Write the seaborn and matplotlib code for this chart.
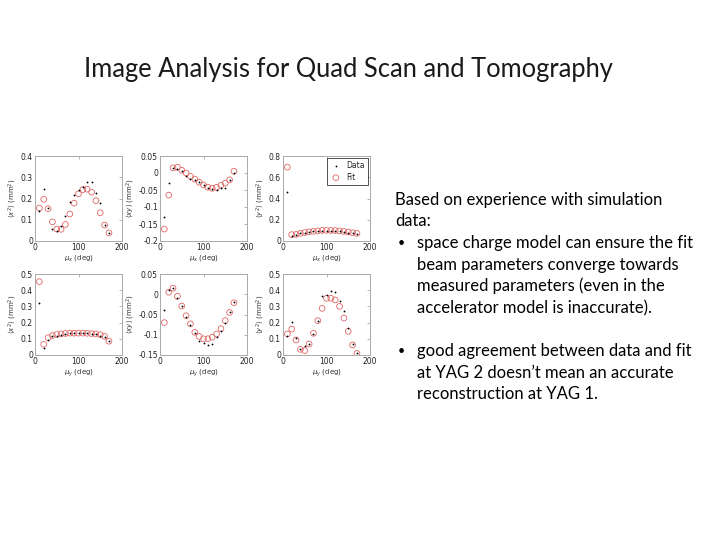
import matplotlib
matplotlib.use("Agg")
import matplotlib.pyplot as plt
import seaborn as sns
import numpy as np
import pandas as pd

sns.set_style("white")
plt.rcParams['font.family'] = ['DejaVu Sans']

mu = [10, 20, 30, 40, 50, 60, 70, 80, 90, 100, 110, 120, 130, 140, 150, 160, 170]

# Row 1 (vs mu_x)
x2_data_a = [0.14, 0.245, 0.155, 0.055, 0.047, 0.072, 0.118, 0.185, 0.215, 0.24, 0.252, 0.278, 0.278, 0.228, 0.18, 0.075, 0.04]
x2_fit_a = [0.155, 0.196, 0.152, 0.09, 0.056, 0.055, 0.078, 0.127, 0.178, 0.222, 0.242, 0.244, 0.23, 0.19, 0.133, 0.075, 0.038]
xy_data_a = [-0.13, -0.03, 0.015, 0.013, 0.005, -0.01, -0.018, -0.02, -0.025, -0.035, -0.045, -0.047, -0.05, -0.045, -0.045, -0.02, 0.0]
xy_fit_a = [-0.165, -0.065, 0.015, 0.017, 0.008, 0.0, -0.01, -0.018, -0.027, -0.035, -0.042, -0.045, -0.042, -0.036, -0.03, -0.02, 0.005]
y2_data_a = [0.46, 0.05, 0.055, 0.075, 0.08, 0.085, 0.09, 0.095, 0.097, 0.098, 0.097, 0.095, 0.092, 0.088, 0.08, 0.072, 0.065]
y2_fit_a = [0.695, 0.06, 0.062, 0.072, 0.08, 0.086, 0.091, 0.095, 0.1, 0.1, 0.1, 0.098, 0.095, 0.09, 0.085, 0.078, 0.072]

# Row 2 (vs mu_y)
x2_data_b = [0.32, 0.045, 0.095, 0.115, 0.12, 0.125, 0.13, 0.133, 0.135, 0.135, 0.135, 0.133, 0.13, 0.128, 0.12, 0.11, 0.085]
x2_fit_b = [0.453, 0.066, 0.107, 0.12, 0.127, 0.13, 0.133, 0.135, 0.135, 0.135, 0.135, 0.134, 0.132, 0.13, 0.125, 0.115, 0.085]
xy_data_b = [-0.04, 0.01, 0.015, -0.01, -0.03, -0.055, -0.075, -0.095, -0.115, -0.12, -0.125, -0.122, -0.105, -0.09, -0.07, -0.045, -0.02]
xy_fit_b = [-0.07, 0.005, 0.015, -0.005, -0.029, -0.053, -0.073, -0.094, -0.104, -0.11, -0.11, -0.106, -0.098, -0.085, -0.065, -0.045, -0.021]
y2_data_b = [0.115, 0.205, 0.105, 0.04, 0.055, 0.07, 0.13, 0.21, 0.365, 0.37, 0.395, 0.39, 0.335, 0.27, 0.165, 0.07, 0.015]
y2_fit_b = [0.13, 0.16, 0.093, 0.035, 0.027, 0.068, 0.134, 0.212, 0.288, 0.35, 0.35, 0.34, 0.3, 0.228, 0.146, 0.062, 0.01]

ylabels = [r'$\langle x^2\rangle$ (mm$^2$)', r'$\langle xy\rangle$ (mm$^2$)', r'$\langle y^2\rangle$ (mm$^2$)']
xlabels = [r'$\mu_x$ (deg)', r'$\mu_y$ (deg)']
ylims = [[(0, 0.4), (-0.2, 0.05), (0, 0.8)], [(0, 0.5), (-0.15, 0.05), (0, 0.5)]]
yticks = [[[0, 0.1, 0.2, 0.3, 0.4], [-0.2, -0.15, -0.1, -0.05, 0, 0.05], [0, 0.2, 0.4, 0.6, 0.8]],
          [[0, 0.1, 0.2, 0.3, 0.4, 0.5], [-0.15, -0.1, -0.05, 0, 0.05], [0, 0.1, 0.2, 0.3, 0.4, 0.5]]]
xticks = [0, 100, 200]

series = [[(x2_data_a, x2_fit_a), (xy_data_a, xy_fit_a), (y2_data_a, y2_fit_a)],
          [(x2_data_b, x2_fit_b), (xy_data_b, xy_fit_b), (y2_data_b, y2_fit_b)]]

fig = plt.figure(figsize=(7.2, 5.4), dpi=100)

lefts = [35, 160, 283]
tops = [156, 274]
heights = [85, 81]
W = 87
fit_color = '#e06666'

for r in range(2):
    for c in range(3):
        l = lefts[c] / 720
        b = 1 - (tops[r] + heights[r]) / 540
        ax = fig.add_axes([l, b, W / 720, heights[r] / 540])
        d, f = series[r][c]
        df = pd.DataFrame({'mu': mu, 'data': d, 'fit': f})
        sns.scatterplot(data=df, x='mu', y='data', ax=ax, color='black', s=7,
                        marker='.', linewidth=0, label='Data', zorder=3)
        sns.scatterplot(data=df, x='mu', y='fit', ax=ax, facecolor='none',
                        edgecolor=fit_color, s=17, marker='o', linewidth=0.6,
                        label='Fit', zorder=2)
        ax.set_xlim(0, 200)
        ax.set_ylim(*ylims[r][c])
        ax.set_xticks(xticks)
        ax.set_yticks(yticks[r][c])
        ax.set_yticklabels([('%g' % v) for v in yticks[r][c]])
        ax.tick_params(direction='in', length=2, width=0.5, labelsize=5.5,
                       top=True, right=True, pad=1.5, colors='#999999',
                       labelcolor='#222222')
        for sp in ax.spines.values():
            sp.set_color('#aaaaaa')
            sp.set_linewidth(0.7)
        ax.set_xlabel(xlabels[r], fontsize=5, labelpad=1, color='#333333')
        ax.set_ylabel(ylabels[c], fontsize=5, labelpad=1, color='#333333')
        if r == 0 and c == 2:
            leg = ax.legend(loc='upper right', fontsize=5.5, frameon=True,
                            fancybox=False, edgecolor='black', handletextpad=0.6,
                            borderpad=0.4, labelspacing=0.3, handlelength=1.5,
                            borderaxespad=0.3)
            leg.get_frame().set_linewidth(0.6)
        else:
            ax.get_legend().remove()

fig.text(348 / 720, 1 - 70 / 540, 'Image Analysis for Quad Scan and Tomography',
         ha='center', va='center', fontsize=18.4, family='Lato', color='#1a1a1a')

txt_font = dict(fontsize=12, family='Lato', color='black', va='center', ha='left')
plain = [('Based on experience with simulation', 200), ('data:', 221)]
for s, y in plain:
    fig.text(395 / 720, 1 - y / 540, s, **txt_font)
bullet_lines = [('space charge model can ensure the fit', 243, True),
                ('beam parameters converge towards', 265, False),
                ('measured parameters (even in the', 286, False),
                ('accelerator model is inaccurate).', 308, False),
                ('good agreement between data and fit', 351, True),
                ('at YAG 2 doesn\u2019t mean an accurate', 373, False),
                ('reconstruction at YAG 1.', 394, False)]
for s, y, bullet in bullet_lines:
    if bullet:
        fig.text(398 / 720, 1 - y / 540, '\u2022',
                 **{**txt_font, 'fontsize': 9})
    fig.text(417 / 720, 1 - y / 540, s, **txt_font)

fig.savefig('out.png', dpi=100)
